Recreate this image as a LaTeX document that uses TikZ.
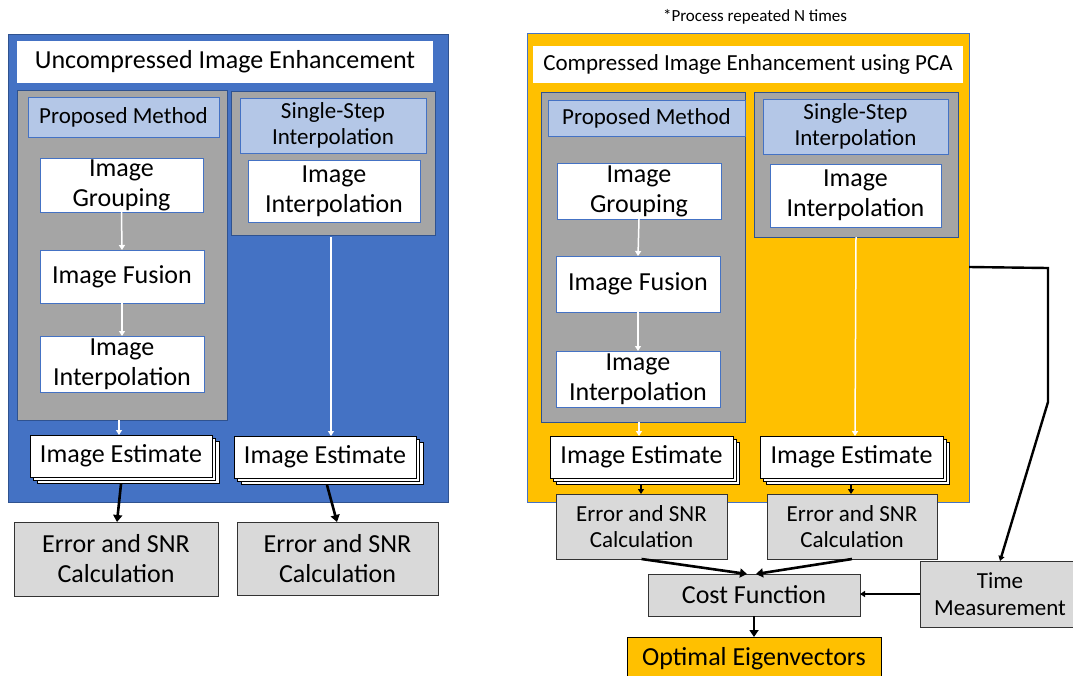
\documentclass[tikz,border=0pt]{standalone}
\usepackage{fontspec}
\setmainfont{Carlito}
\usetikzlibrary{arrows.meta}
\definecolor{mblue}{HTML}{4472C4}
\definecolor{dblue}{HTML}{2F528F}
\definecolor{lblue}{HTML}{B4C7E7}
\definecolor{mgray}{HTML}{A5A5A5}
\definecolor{lgray}{HTML}{D9D9D9}
\definecolor{morange}{HTML}{FFC000}
\newcommand\bx[7]{\node[#6, minimum width={#4pt-#2pt}, minimum height={#5pt-#3pt}] (#1) at ({(#2+#4)/2},{(#3+#5)/2}) {#7};}
\tikzset{
  every node/.style={inner sep=0pt, outer sep=0pt, align=center},
  bluepanel/.style={draw=dblue, fill=mblue, line width=0.8pt},
  orangepanel/.style={draw=mblue, fill=morange, line width=0.8pt},
  titlebox/.style={fill=white},
  graybox/.style={draw=dblue, fill=mgray, line width=0.8pt},
  headbox/.style={draw=mblue, fill=lblue, line width=0.8pt},
  whitebox/.style={draw=mblue, fill=white, line width=0.8pt},
  estbox/.style={draw=black, fill=white, line width=0.6pt},
  calcbox/.style={draw=black!80, fill=lgray, line width=1pt},
  optbox/.style={draw=black, fill=morange, line width=1pt},
  warrow/.style={draw=white, line width=1.5pt, -{Triangle[width=6pt,length=5pt]}},
  barrow/.style={draw=black, line width=2.6pt, -{Triangle[width=9pt,length=7pt]}},
  sarrow/.style={draw=black, line width=1.6pt, -{Triangle[width=6pt,length=5pt]}},
  fbig/.style={font=\fontsize{26}{30}\selectfont},
  fmid/.style={font=\fontsize{23}{26.5}\selectfont},
}
\begin{document}
\begin{tikzpicture}[x=1pt,y=-1pt]
\useasboundingbox (0,0) rectangle (1073,675);
% ================= LEFT =================
\bx{lpanel}{8}{34}{448}{502}{bluepanel}{}
\bx{ltitle}{17}{41}{433}{83}{titlebox,fbig}{Uncompressed Image Enhancement}
\bx{lgrayA}{17}{90}{227}{420}{graybox}{}
\bx{lheadA}{28}{97}{219}{137}{headbox,fmid}{Proposed Method}
\bx{lgroup}{40}{158}{203}{212}{whitebox,fbig}{Image\\Grouping}
\bx{lfusion}{40}{250}{204}{303}{whitebox,fbig}{Image Fusion}
\bx{linterp}{40}{336}{204}{392}{whitebox,fbig}{Image\\Interpolation}
\bx{lgrayB}{231}{91}{435}{235}{graybox}{}
\bx{lheadB}{240}{98}{426}{153}{headbox,fmid}{Single-Step\\Interpolation}
\bx{linterpB}{248}{160}{420}{222}{whitebox,fbig}{Image\\Interpolation}
% image estimates (stacked)
\draw[estbox] (37,441) rectangle (219,483);
\draw[estbox] (33,438) rectangle (215,480);
\bx{lestA}{30}{435}{212}{477}{estbox,fbig}{Image Estimate}
\draw[estbox] (241,442) rectangle (423,484);
\draw[estbox] (237,439) rectangle (419,481);
\bx{lestB}{234}{436}{416}{478}{estbox,fbig}{Image Estimate}
% white arrows
\draw[warrow] (lgroup.south) -- (lfusion.north);
\draw[warrow] (lfusion.south) -- (linterp.north);
\draw[warrow] (119,420) -- (lestA.north -| 119,0);
\draw[warrow] (331,237) -- (lestB.north -| 331,0);
% calc boxes
\bx{lcalcA}{14}{522}{218}{596}{calcbox,fbig}{Error and SNR\\Calculation}
\bx{lcalcB}{237}{522}{438}{595}{calcbox,fbig}{Error and SNR\\Calculation}
\draw[barrow] (121,484) -- (117,522);
\draw[barrow] (327,485) -- (337,522);
% ================= RIGHT =================
\node[font=\fontsize{17}{20}\selectfont] (note) at (755,17) {*Process repeated N times};
\bx{rpanel}{527}{33}{969}{502}{orangepanel}{}
\bx{rtitle}{533}{46}{963}{83}{titlebox,fmid}{Compressed Image Enhancement using PCA}
\bx{rgrayA}{541}{92}{745}{422}{graybox}{}
\bx{rheadA}{548}{100}{745}{136}{headbox,fmid}{Proposed Method}
\bx{rgroup}{557}{163}{721}{219}{whitebox,fbig}{Image\\Grouping}
\bx{rfusion}{556}{256}{720}{312}{whitebox,fbig}{Image Fusion}
\bx{rinterp}{556}{351}{720}{407}{whitebox,fbig}{Image\\Interpolation}
\bx{rgrayB}{754}{92}{958}{237}{graybox}{}
\bx{rheadB}{763}{99}{948}{154}{headbox,fmid}{Single-Step\\Interpolation}
\bx{rinterpB}{770}{164}{941}{227}{whitebox,fbig}{Image\\Interpolation}
\draw[estbox] (556,442) rectangle (739,484);
\draw[estbox] (553,439) rectangle (736,481);
\bx{restA}{550}{436}{733}{478}{estbox,fbig}{Image Estimate}
\draw[estbox] (766,442) rectangle (949,484);
\draw[estbox] (763,439) rectangle (946,481);
\bx{restB}{760}{436}{943}{478}{estbox,fbig}{Image Estimate}
\draw[warrow] (rgroup.south) -- (rfusion.north);
\draw[warrow] (rfusion.south) -- (rinterp.north);
\draw[warrow] (639,422) -- (639,436);
\draw[warrow] (856,237) -- (855,436);
\bx{rcalcA}{556}{494}{727}{559}{calcbox,fmid}{Error and SNR\\Calculation}
\bx{rcalcB}{767}{494}{937}{559}{calcbox,fmid}{Error and SNR\\Calculation}
\draw[sarrow] (641,484) -- (rcalcA.north -| 641,0);
\draw[sarrow] (851,484) -- (rcalcB.north -| 851,0);
\bx{cost}{648}{574}{860}{616}{calcbox,fbig}{Cost Function}
\bx{timem}{920}{561}{1080}{627}{calcbox,fmid}{Time\\Measurement}
\bx{optim}{627}{637}{881}{680}{optbox,fbig}{Optimal Eigenvectors}
\draw[barrow] (rcalcA.south) -- (747,574);
\draw[barrow] (rcalcB.south) -- (756,574);
\draw[sarrow] (timem.west |- 0,594) -- (cost.east |- 0,594);
\draw[barrow] (cost.south) -- (optim.north);
\coordinate (c1) at (1048,268);
\coordinate (c2) at (1048,402);
\draw[sarrow, line width=2.4pt] (rpanel.east |- 0,267) -- (c1) -- (c2) -- (timem.north -| 1000,0);
\end{tikzpicture}
\end{document}
